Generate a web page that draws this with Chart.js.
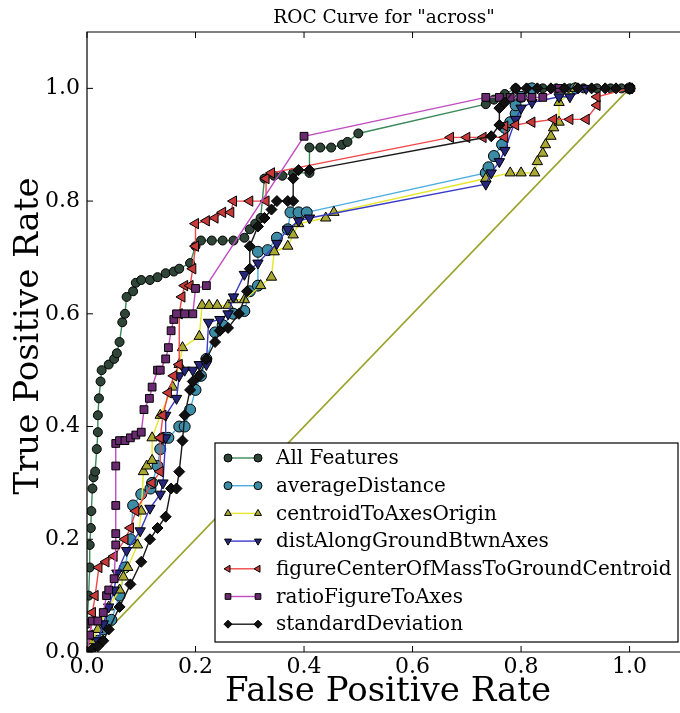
<!DOCTYPE html>
<html>
<head>
<meta charset="utf-8">
<script src="https://cdn.jsdelivr.net/npm/chart.js@4"></script>
<style>
  body { margin: 0; background: #fff; }
  #wrap { width: 680px; height: 713px; }
</style>
</head>
<body>
<div id="wrap"><canvas id="roc" width="680" height="713"></canvas></div>
<script>
// ROC points, as [false positive rate, true positive rate]
const allFeatures = [
  [0,0],[0,0.05],[0.003,0.1],[0.005,0.15],[0.005,0.19],[0.007,0.22],[0.008,0.25],[0.01,0.29],
  [0.012,0.31],[0.015,0.32],[0.018,0.36],[0.02,0.39],[0.02,0.42],[0.022,0.45],[0.025,0.48],
  [0.027,0.5],[0.04,0.51],[0.05,0.52],[0.055,0.53],[0.06,0.55],[0.065,0.585],[0.07,0.6],
  [0.073,0.63],[0.085,0.64],[0.09,0.655],[0.1,0.66],[0.116,0.66],[0.13,0.665],[0.145,0.672],
  [0.16,0.675],[0.17,0.68],[0.19,0.69],[0.2,0.72],[0.21,0.73],[0.23,0.73],[0.25,0.73],
  [0.27,0.73],[0.29,0.735],[0.3,0.75],[0.31,0.76],[0.32,0.77],[0.327,0.84],[0.345,0.845],
  [0.36,0.845],[0.38,0.85],[0.41,0.85],[0.41,0.895],[0.43,0.895],[0.45,0.895],[0.47,0.9],
  [0.48,0.905],[0.5,0.92],[0.735,0.972],[0.75,0.98],[0.77,0.99],[0.79,1.0],[0.815,1.0],
  [0.84,1.0],[0.865,1.0],[0.89,1.0],[0.915,1.0],[0.94,1.0],[0.965,1.0],[0.985,1.0],[1.0,1.0]
];
const averageDistance = [
  [0,0],[0.01,0.01],[0.02,0.02],[0.03,0.04],[0.045,0.057],[0.06,0.1],[0.07,0.15],[0.08,0.2],
  [0.085,0.26],[0.1,0.28],[0.117,0.29],[0.12,0.3],[0.13,0.33],[0.135,0.36],[0.14,0.38],
  [0.15,0.38],[0.17,0.4],[0.18,0.4],[0.19,0.43],[0.2,0.465],[0.21,0.49],[0.22,0.52],
  [0.236,0.567],[0.25,0.58],[0.27,0.6],[0.29,0.605],[0.3,0.64],[0.315,0.65],[0.315,0.71],
  [0.333,0.713],[0.35,0.735],[0.37,0.75],[0.375,0.78],[0.39,0.78],[0.405,0.78],[0.735,0.85],
  [0.74,0.86],[0.75,0.88],[0.765,0.9],[0.77,0.93],[0.78,0.94],[0.79,0.955],[0.79,0.97],
  [0.8,0.985],[0.82,1.0],[0.9,1.0],[1.0,1.0]
];
const centroidToAxesOrigin = [
  [0,0],[0.01,0.02],[0.02,0.04],[0.04,0.08],[0.06,0.11],[0.067,0.133],[0.075,0.15],
  [0.093,0.19],[0.1,0.25],[0.104,0.32],[0.11,0.33],[0.12,0.34],[0.12,0.38],[0.135,0.42],
  [0.158,0.47],[0.17,0.51],[0.176,0.54],[0.207,0.56],[0.212,0.615],[0.225,0.615],[0.24,0.615],
  [0.26,0.615],[0.27,0.625],[0.29,0.625],[0.32,0.65],[0.34,0.665],[0.345,0.71],[0.37,0.72],
  [0.38,0.74],[0.39,0.76],[0.44,0.77],[0.455,0.78],[0.735,0.84],[0.78,0.85],[0.8,0.85],
  [0.825,0.85],[0.83,0.87],[0.84,0.885],[0.845,0.9],[0.855,0.915],[0.86,0.93],[0.87,0.94],
  [0.87,0.975],[0.9,1.0],[1.0,1.0]
];
const distAlongGroundBtwnAxes = [
  [0,0],[0.02,0.02],[0.03,0.05],[0.04,0.08],[0.05,0.11],[0.055,0.14],[0.073,0.18],
  [0.098,0.215],[0.116,0.255],[0.135,0.28],[0.14,0.3],[0.145,0.38],[0.145,0.42],[0.165,0.45],
  [0.17,0.49],[0.18,0.5],[0.195,0.5],[0.207,0.51],[0.22,0.51],[0.224,0.585],[0.245,0.59],
  [0.26,0.6],[0.27,0.63],[0.29,0.67],[0.315,0.69],[0.35,0.725],[0.37,0.75],[0.39,0.765],
  [0.41,0.77],[0.735,0.83],[0.745,0.85],[0.76,0.87],[0.77,0.89],[0.79,0.945],[0.8,0.965],
  [0.82,0.975],[0.87,0.985],[0.89,0.985],[0.92,1.0],[1.0,1.0]
];
const figureCenterOfMassToGroundCentroid = [
  [0,0],[0.005,0.03],[0.01,0.07],[0.015,0.1],[0.022,0.15],[0.035,0.16],[0.05,0.17],[0.07,0.2],
  [0.08,0.22],[0.09,0.25],[0.12,0.3],[0.135,0.32],[0.135,0.38],[0.14,0.42],[0.15,0.46],
  [0.16,0.49],[0.17,0.51],[0.17,0.6],[0.175,0.63],[0.18,0.65],[0.19,0.65],[0.195,0.68],
  [0.2,0.72],[0.2,0.76],[0.22,0.765],[0.236,0.77],[0.25,0.78],[0.265,0.78],[0.27,0.8],
  [0.3,0.8],[0.33,0.8],[0.33,0.84],[0.34,0.85],[0.67,0.913],[0.7,0.913],[0.73,0.913],
  [0.77,0.913],[0.77,0.933],[0.79,0.935],[0.82,0.94],[0.86,0.945],[0.89,0.945],[0.92,0.945],
  [0.94,0.97],[0.94,0.985],[1.0,1.0]
];
const ratioFigureToAxes = [
  [0,0],[0.005,0.03],[0.01,0.055],[0.02,0.055],[0.03,0.07],[0.036,0.1],[0.04,0.11],
  [0.05,0.13],[0.053,0.19],[0.053,0.21],[0.053,0.26],[0.053,0.33],[0.053,0.37],[0.06,0.375],
  [0.07,0.375],[0.08,0.38],[0.09,0.385],[0.1,0.39],[0.105,0.43],[0.115,0.45],[0.12,0.47],
  [0.13,0.5],[0.135,0.5],[0.145,0.52],[0.15,0.54],[0.155,0.57],[0.16,0.59],[0.165,0.6],
  [0.18,0.6],[0.195,0.6],[0.2,0.645],[0.22,0.65],[0.4,0.915],[0.735,0.984],[0.76,0.984],
  [0.78,0.984],[0.8,0.984],[0.82,0.984],[0.84,0.984],[0.87,1.0],[1.0,1.0]
];
const standardDeviation = [
  [0,0],[0.01,0.005],[0.02,0.01],[0.03,0.02],[0.04,0.04],[0.06,0.08],[0.08,0.12],[0.1,0.16],
  [0.116,0.2],[0.13,0.22],[0.145,0.24],[0.155,0.29],[0.165,0.29],[0.17,0.32],[0.176,0.375],
  [0.18,0.42],[0.19,0.465],[0.195,0.48],[0.207,0.49],[0.22,0.52],[0.236,0.55],[0.245,0.57],
  [0.26,0.575],[0.28,0.6],[0.295,0.64],[0.3,0.68],[0.3,0.72],[0.315,0.755],[0.327,0.77],
  [0.34,0.785],[0.35,0.8],[0.37,0.8],[0.38,0.8],[0.38,0.84],[0.39,0.855],[0.41,0.855],
  [0.745,0.915],[0.76,0.935],[0.76,0.965],[0.77,0.975],[0.79,1.0],[0.81,1.0],[0.83,1.0],
  [0.855,1.0],[0.88,1.0],[0.905,1.0],[0.93,1.0],[0.955,1.0],[0.975,1.0],[1.0,1.0]
];
const chanceLine = [[0,0],[1,1]];

const seriesNames = [
  "All Features", "averageDistance", "centroidToAxesOrigin", "distAlongGroundBtwnAxes",
  "figureCenterOfMassToGroundCentroid", "ratioFigureToAxes", "standardDeviation"
];
const xTicks = [0, 0.2, 0.4, 0.6, 0.8, 1.0];
const yTicks = [0, 0.2, 0.4, 0.6, 0.8, 1.0];

const serif = "'DejaVu Serif', serif";

function toPoints(arr) {
  return arr.map(p => ({ x: p[0], y: p[1] }));
}

function series(label, data, line, fill, style, rotation, radius, order) {
  return {
    label: label,
    data: toPoints(data),
    showLine: true,
    borderColor: line,
    borderWidth: 1.4,
    pointStyle: style,
    rotation: rotation,
    pointRadius: radius,
    pointBackgroundColor: fill,
    pointBorderColor: '#000',
    pointBorderWidth: 1,
    order: order
  };
}

const datasets = [
  series(seriesNames[0], allFeatures, '#3d8a5a', '#2e4538', 'circle', 0, 4.5, 6),
  series(seriesNames[1], averageDistance, '#4aaee0', '#3d8ca6', 'circle', 0, 5.5, 5),
  series(seriesNames[2], centroidToAxesOrigin, '#e6e62a', '#a8a832', 'triangle', 0, 6, 4),
  series(seriesNames[3], distAlongGroundBtwnAxes, '#3a3ac8', '#26267a', 'triangle', 180, 6, 3),
  series(seriesNames[4], figureCenterOfMassToGroundCentroid, '#f04848', '#c83a3a', 'triangle', -90, 6, 2),
  series(seriesNames[5], ratioFigureToAxes, '#c04cc0', '#6a2a70', 'rect', 0, 5.5, 1),
  series(seriesNames[6], standardDeviation, '#1a1a1a', '#111111', 'rectRot', 0, 5.5, 0),
  {
    label: 'chance',
    data: toPoints(chanceLine),
    showLine: true,
    borderColor: '#9aa42c',
    borderWidth: 1.6,
    pointRadius: 0,
    order: 7
  }
];

// frame, inward ticks, titles and the boxed legend inside the plot
const decorations = {
  id: 'decorations',
  afterDraw(chart) {
    const ctx = chart.ctx;
    const a = chart.chartArea;
    const xs = chart.scales.x, ys = chart.scales.y;
    ctx.save();
    ctx.strokeStyle = '#000';
    ctx.lineWidth = 1.2;
    ctx.beginPath();
    ctx.moveTo(chart.width + 5, a.top);
    ctx.lineTo(a.left, a.top);
    ctx.lineTo(a.left, a.bottom);
    ctx.lineTo(chart.width + 5, a.bottom);
    ctx.stroke();
    ctx.lineWidth = 1;
    ctx.beginPath();
    xTicks.forEach(v => {
      const px = xs.getPixelForValue(v);
      ctx.moveTo(px, a.bottom); ctx.lineTo(px, a.bottom - 6);
      ctx.moveTo(px, a.top); ctx.lineTo(px, a.top + 6);
    });
    yTicks.forEach(v => {
      const py = ys.getPixelForValue(v);
      ctx.moveTo(a.left, py); ctx.lineTo(a.left + 6, py);
    });
    ctx.stroke();

    ctx.fillStyle = '#000';
    ctx.textAlign = 'center';
    ctx.textBaseline = 'middle';
    ctx.font = '18.5px ' + serif;
    ctx.fillText('ROC Curve for "across"', 384, 18);
    ctx.font = '34px ' + serif;
    ctx.fillText('False Positive Rate', 388, 692);
    ctx.save();
    ctx.translate(29, 336);
    ctx.rotate(-Math.PI / 2);
    ctx.fillText('True Positive Rate', 0, 0);
    ctx.restore();

    // legend box
    const bx = 215, by = 443, bw = 463, bh = 199;
    ctx.fillStyle = '#fff';
    ctx.fillRect(bx, by, bw, bh);
    ctx.strokeStyle = '#000';
    ctx.lineWidth = 1.2;
    ctx.strokeRect(bx, by, bw, bh);
    ctx.font = '20px ' + serif;
    ctx.textAlign = 'left';
    for (let i = 0; i < seriesNames.length; i++) {
      const ds = chart.data.datasets[i];
      const y = by + 15 + i * 27.7;
      ctx.strokeStyle = ds.borderColor;
      ctx.lineWidth = 1.4;
      ctx.beginPath();
      ctx.moveTo(228, y); ctx.lineTo(258, y);
      ctx.stroke();
      ctx.fillStyle = ds.pointBackgroundColor;
      ctx.strokeStyle = '#000';
      ctx.lineWidth = 1;
      const opts = { pointStyle: ds.pointStyle, rotation: ds.rotation, radius: 4, borderWidth: 1 };
      Chart.helpers.drawPoint(ctx, opts, 228, y);
      Chart.helpers.drawPoint(ctx, opts, 258, y);
      ctx.fillStyle = '#000';
      ctx.fillText(seriesNames[i], 276, y + 1);
    }
    ctx.restore();
  }
};

new Chart(document.getElementById('roc'), {
  type: 'scatter',
  data: { datasets: datasets },
  options: {
    responsive: false,
    animation: false,
    layout: { padding: { top: 32, left: 0, right: 0, bottom: 0 } },
    plugins: {
      legend: { display: false },
      title: { display: false },
      tooltip: { enabled: false }
    },
    scales: {
      x: {
        type: 'linear',
        min: 0,
        max: 1.08,
        afterFit(scale) { scale.height = 61; },
        afterBuildTicks(scale) { scale.ticks = xTicks.map(v => ({ value: v })); },
        ticks: {
          color: '#000',
          font: { family: serif, size: 22 },
          padding: 2,
          maxRotation: 0,
          autoSkip: false,
          callback: v => Number(v).toFixed(1)
        },
        grid: { display: false, drawTicks: false },
        border: { display: false }
      },
      y: {
        type: 'linear',
        min: 0,
        max: 1.1,
        afterFit(scale) { scale.width = 87; },
        afterBuildTicks(scale) { scale.ticks = yTicks.map(v => ({ value: v })); },
        ticks: {
          color: '#000',
          font: { family: serif, size: 22 },
          padding: 7,
          autoSkip: false,
          callback: v => Number(v).toFixed(1)
        },
        grid: { display: false, drawTicks: false },
        border: { display: false }
      }
    }
  },
  plugins: [decorations]
});
</script>
</body>
</html>
